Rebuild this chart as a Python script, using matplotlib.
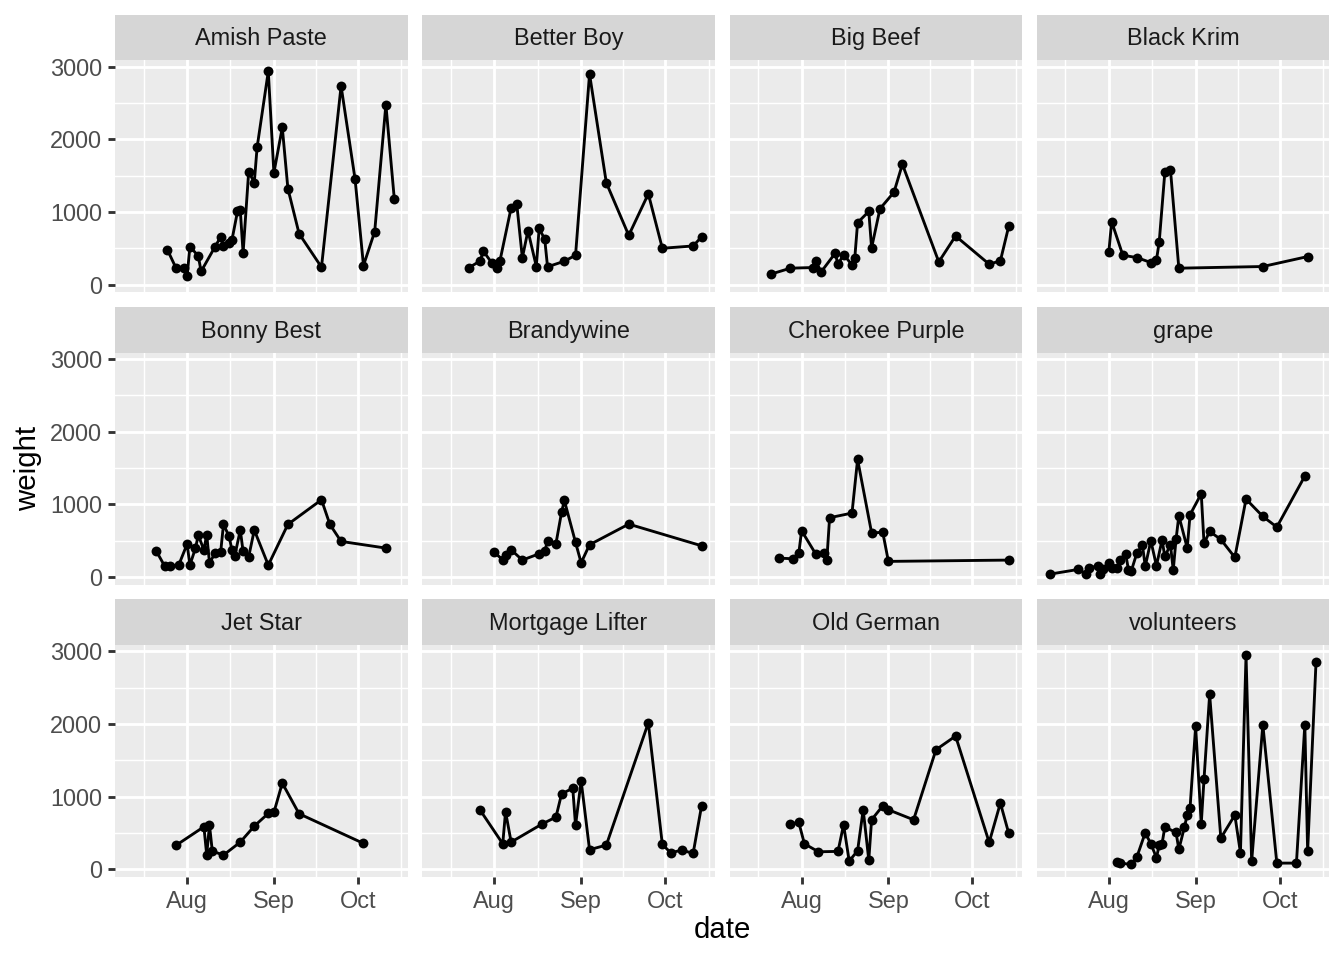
import numpy as np
import matplotlib
matplotlib.use("Agg")
import matplotlib.pyplot as plt
import matplotlib.dates as mdates
from matplotlib.ticker import FixedLocator

plt.rcParams['font.family'] = ['Liberation Sans', 'DejaVu Sans']

YEAR = "2020-"

varieties = ["Amish Paste", "Better Boy", "Big Beef", "Black Krim",
             "Bonny Best", "Brandywine", "Cherokee Purple", "grape",
             "Jet Star", "Mortgage Lifter", "Old German", "volunteers"]

amish_paste_dates = ["07-25", "07-28", "07-31", "08-01", "08-02", "08-05", "08-06", "08-11",
                     "08-13", "08-14", "08-16", "08-17", "08-19", "08-20", "08-21", "08-23",
                     "08-25", "08-26", "08-30", "09-01", "09-04", "09-06", "09-10", "09-18",
                     "09-25", "09-30", "10-03", "10-07", "10-11", "10-14"]
amish_paste_weights = [479, 233, 224, 114, 525, 397, 183, 525, 658, 534, 580, 612, 1009, 1023,
                       438, 1557, 1406, 1890, 2936, 1539, 2164, 1324, 703, 242, 2735, 1452,
                       265, 731, 2479, 1183]

better_boy_dates = ["07-23", "07-27", "07-28", "07-31", "08-02", "08-03", "08-07", "08-09",
                    "08-11", "08-13", "08-16", "08-17", "08-19", "08-20", "08-26", "08-30",
                    "09-04", "09-10", "09-18", "09-25", "09-30", "10-11", "10-14"]
better_boy_weights = [237, 329, 466, 306, 233, 329, 1059, 1114, 370, 744, 251, 776, 626, 247,
                      324, 406, 2900, 1402, 680, 1251, 502, 534, 658]

big_beef_dates = ["07-21", "07-28", "08-05", "08-06", "08-08", "08-13", "08-14", "08-16",
                  "08-19", "08-20", "08-21", "08-25", "08-26", "08-29", "09-03", "09-06",
                  "09-19", "09-25", "10-07", "10-11", "10-14"]
big_beef_weights = [146, 228, 237, 329, 178, 434, 279, 416, 274, 370, 854, 1009, 507, 1046,
                    1274, 1658, 315, 671, 283, 329, 808]

black_krim_dates = ["08-01", "08-02", "08-06", "08-11", "08-16", "08-18", "08-19", "08-21",
                    "08-23", "08-26", "09-25", "10-11"]
black_krim_weights = [452, 868, 406, 374, 306, 338, 594, 1548, 1584, 228, 251, 388]

bonny_best_dates = ["07-21", "07-24", "07-26", "07-29", "08-01", "08-02", "08-04", "08-05",
                    "08-07", "08-08", "08-09", "08-11", "08-13", "08-14", "08-16", "08-17",
                    "08-18", "08-20", "08-21", "08-23", "08-25", "08-30", "09-06", "09-18",
                    "09-21", "09-25", "10-11"]
bonny_best_weights = [358, 151, 156, 165, 454, 165, 399, 578, 372, 583, 197, 326, 349, 725,
                      560, 376, 289, 647, 353, 280, 647, 165, 725, 1064, 725, 491, 399]

brandywine_dates = ["08-01", "08-04", "08-05", "08-07", "08-11", "08-17", "08-19", "08-20",
                    "08-23", "08-25", "08-26", "08-30", "09-01", "09-04", "09-18", "10-14"]
brandywine_weights = [339, 239, 307, 376, 234, 321, 353, 500, 459, 890, 1055, 477, 197, 445,
                      729, 431]

cherokee_purple_dates = ["07-24", "07-29", "07-31", "08-01", "08-06", "08-09", "08-10", "08-11",
                         "08-19", "08-21", "08-26", "08-30", "09-01", "10-14"]
cherokee_purple_weights = [261, 252, 330, 638, 321, 330, 229, 817, 881, 1619, 610, 615, 216, 234]

grape_dates = ["07-11", "07-21", "07-24", "07-25", "07-28", "07-29", "07-30", "08-01", "08-02",
               "08-04", "08-05", "08-07", "08-08", "08-09", "08-11", "08-13", "08-14", "08-16",
               "08-18", "08-20", "08-21", "08-23", "08-24", "08-25", "08-26", "08-29", "08-30",
               "09-03", "09-04", "09-06", "09-10", "09-15", "09-19", "09-25", "09-30", "10-10"]
grape_weights = [41, 105, 41, 128, 151, 46, 110, 197, 124, 124, 239, 321, 101, 83, 330, 440,
                 147, 500, 156, 509, 284, 445, 96, 518, 844, 399, 858, 1147, 463, 628, 518,
                 271, 1073, 835, 688, 1390]

jet_star_dates = ["07-28", "08-07", "08-08", "08-09", "08-10", "08-14", "08-20", "08-25",
                  "08-30", "09-01", "09-04", "09-10", "10-03"]
jet_star_weights = [330, 587, 202, 610, 252, 197, 376, 596, 771, 784, 1188, 766, 358]

mortgage_lifter_dates = ["07-27", "08-04", "08-05", "08-07", "08-18", "08-23", "08-25", "08-29",
                         "08-30", "09-01", "09-04", "09-10", "09-25", "09-30", "10-03", "10-07",
                         "10-11", "10-14"]
mortgage_lifter_weights = [812, 353, 794, 376, 624, 720, 1037, 1119, 606, 1220, 271, 335, 2018,
                           344, 229, 266, 220, 872]

old_german_dates = ["07-28", "07-31", "08-02", "08-07", "08-14", "08-16", "08-18", "08-21",
                    "08-23", "08-25", "08-26", "08-30", "09-01", "09-10", "09-18", "09-25",
                    "10-07", "10-11", "10-14"]
old_german_weights = [624, 647, 353, 243, 248, 615, 115, 257, 821, 128, 683, 876, 821, 683,
                      1647, 1835, 372, 913, 495]

volunteers_dates = ["08-04", "08-05", "08-09", "08-11", "08-14", "08-16", "08-18", "08-19",
                    "08-20", "08-21", "08-25", "08-26", "08-28", "08-29", "08-30", "09-01",
                    "09-03", "09-04", "09-06", "09-10", "09-15", "09-17", "09-19", "09-21",
                    "09-25", "09-30", "10-07", "10-10", "10-11", "10-14"]
volunteers_weights = [96, 87, 69, 170, 505, 353, 161, 335, 353, 583, 509, 275, 583, 752, 844,
                      1968, 628, 1248, 2408, 431, 748, 229, 2945, 110, 1991, 87, 87, 1991,
                      252, 2858]

all_dates = [amish_paste_dates, better_boy_dates, big_beef_dates, black_krim_dates,
             bonny_best_dates, brandywine_dates, cherokee_purple_dates, grape_dates,
             jet_star_dates, mortgage_lifter_dates, old_german_dates, volunteers_dates]
all_weights = [amish_paste_weights, better_boy_weights, big_beef_weights, black_krim_weights,
               bonny_best_weights, brandywine_weights, cherokee_purple_weights, grape_weights,
               jet_star_weights, mortgage_lifter_weights, old_german_weights, volunteers_weights]

x_tick_labels = ["Aug", "Sep", "Oct"]
x_tick_dates = ["08-01", "09-01", "10-01"]
month_starts = ["07-01", "08-01", "09-01", "10-01", "11-01"]
y_ticks = [0, 1000, 2000, 3000]
y_minor = [-500, 500, 1500, 2500, 3500]


def to_num(ds):
    return mdates.date2num(np.array([YEAR + d for d in ds], dtype="datetime64[D]"))


xs = [to_num(d) for d in all_dates]
allx = np.concatenate(xs)
ally = np.concatenate([np.asarray(w, float) for w in all_weights])
xr = allx.max() - allx.min()
yr = ally.max() - ally.min()
xlim = (allx.min() - 0.05 * xr, allx.max() + 0.05 * xr)
ylim = (ally.min() - 0.05 * yr, ally.max() + 0.05 * yr)

xmaj = to_num(x_tick_dates)
ms_num = to_num(month_starts)
xmin = (ms_num[:-1] + ms_num[1:]) / 2

W, H = 1344, 960
fig = plt.figure(figsize=(7, 5), dpi=192)
fig.patch.set_facecolor("white")

left0 = 115.0
margin = 14.67
gap = 14.67
pw = (W - margin - left0 - 3 * gap) / 4
sh = 45.5
bottom_last = 83.0
top = H - margin
ph = (top - bottom_last - 3 * sh - 2 * gap) / 3

for i, name in enumerate(varieties):
    r, c = divmod(i, 4)
    x0 = left0 + c * (pw + gap)
    strip_top = top - r * (sh + ph + gap)
    ax_bottom = strip_top - sh - ph

    sax = fig.add_axes([x0 / W, (strip_top - sh) / H, pw / W, sh / H])
    sax.set_facecolor("#D6D6D6")
    sax.set_xticks([])
    sax.set_yticks([])
    for s in sax.spines.values():
        s.set_visible(False)
    sax.text(0.5, 0.47, name, ha="center", va="center", fontsize=8.8,
             color="#1A1A1A", transform=sax.transAxes)

    ax = fig.add_axes([x0 / W, ax_bottom / H, pw / W, ph / H])
    ax.set_facecolor("#EBEBEB")
    for s in ax.spines.values():
        s.set_visible(False)
    ax.set_xlim(*xlim)
    ax.set_ylim(*ylim)
    ax.xaxis.set_major_locator(FixedLocator(xmaj))
    ax.xaxis.set_minor_locator(FixedLocator(xmin))
    ax.yaxis.set_major_locator(FixedLocator(y_ticks))
    ax.yaxis.set_minor_locator(FixedLocator(y_minor))
    ax.set_xticklabels(x_tick_labels)
    ax.set_yticklabels([str(v) for v in y_ticks])
    ax.grid(which="minor", color="white", linewidth=0.53)
    ax.grid(which="major", color="white", linewidth=1.07)
    ax.set_axisbelow(True)
    ax.tick_params(which="minor", length=0)
    ax.tick_params(which="major", length=2.75, width=1.07, color="#333333",
                   labelsize=8.8, labelcolor="#4D4D4D", pad=2.2)
    if c != 0:
        ax.tick_params(left=False, labelleft=False)
    if r != 2:
        ax.tick_params(bottom=False, labelbottom=False)

    ax.plot(xs[i], all_weights[i], color="black", linewidth=1.07, zorder=3,
            solid_joinstyle="round")
    ax.plot(xs[i], all_weights[i], linestyle="none", marker="o", markersize=3.7,
            markeredgewidth=0, color="black", zorder=4)

fig.text(28 / W, 1 - 468 / H, "weight", rotation=90, ha="center", va="center",
         fontsize=11, color="black")
fig.text((left0 + (W - margin)) / 2 / W, 1 - 930 / H, "date", ha="center", va="center",
         fontsize=11, color="black")

fig.savefig("out.png", dpi=192)
